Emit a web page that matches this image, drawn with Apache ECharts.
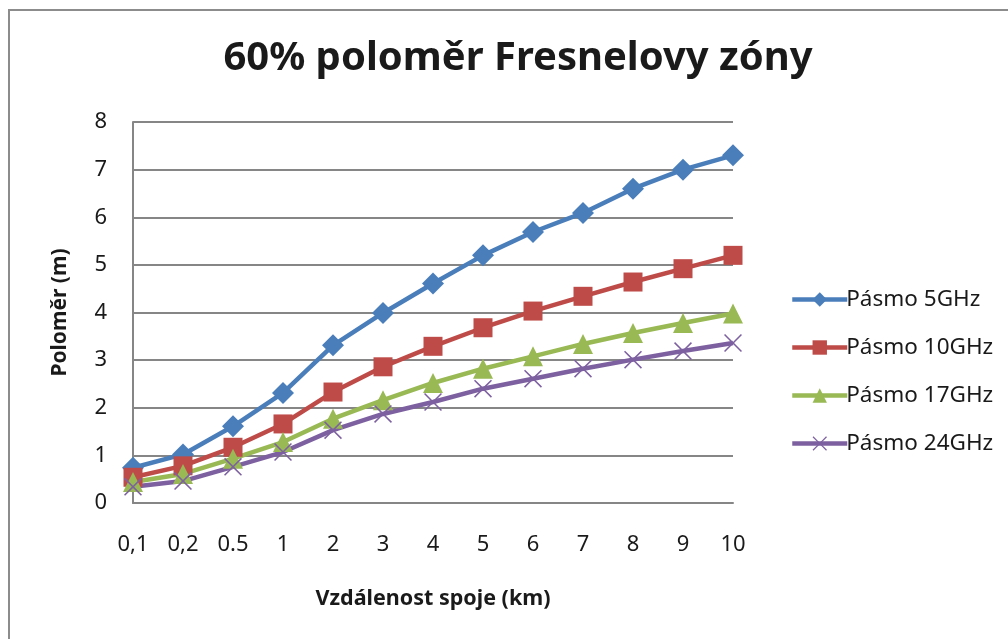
<!DOCTYPE html>
<html>
<head>
<meta charset="utf-8">
<script src="https://cdn.jsdelivr.net/npm/echarts@6/dist/echarts.min.js"></script>
<style>
  html, body { margin: 0; padding: 0; overflow: hidden; background: #fff; }
  #chart { position: absolute; left: 0; top: 0; width: 1008px; height: 639px; }
  #frame { position: absolute; left: 8px; top: 9px; width: 1100px; height: 700px;
           border-left: 2px solid #8c8c8c; border-top: 2px solid #8c8c8c; pointer-events: none; }
</style>
</head>
<body>
<div id="chart"></div>
<div id="frame"></div>
<script>
// vzdálenosti (km)
var categories = ["0,1", "0,2", "0.5", "1", "2", "3", "4", "5", "6", "7", "8", "9", "10"];
var names = ["Pásmo 5GHz", "Pásmo 10GHz", "Pásmo 17GHz", "Pásmo 24GHz"];
var band5 = [0.74, 1.02, 1.61, 2.31, 3.31, 3.99, 4.61, 5.2, 5.69, 6.09, 6.6, 7.0, 7.3];
var band10 = [0.54, 0.78, 1.17, 1.66, 2.33, 2.86, 3.29, 3.68, 4.03, 4.34, 4.64, 4.92, 5.2];
var band17 = [0.44, 0.61, 0.93, 1.28, 1.77, 2.16, 2.52, 2.82, 3.08, 3.34, 3.57, 3.78, 3.98];
var band24 = [0.34, 0.46, 0.76, 1.07, 1.53, 1.87, 2.12, 2.4, 2.61, 2.82, 3.01, 3.19, 3.36];

var font = "'Noto Sans', sans-serif";
var crossPath = "path://M0,0.6L0.6,0L5,4.4L9.4,0L10,0.6L5.6,5L10,9.4L9.4,10L5,5.6L0.6,10L0,9.4L4.4,5Z";

function serie(name, data, color, symbol, size) {
  return {
    name: name,
    type: "line",
    data: data,
    symbol: symbol,
    symbolSize: size,
    showAllSymbol: true,
    lineStyle: { color: color, width: 4.5 },
    itemStyle: { color: color },
    emphasis: { disabled: true },
    animation: false
  };
}

var myChart = echarts.init(document.getElementById("chart"));
var option = {
  backgroundColor: "transparent",
  title: {
    text: "60% poloměr Fresnelovy zóny",
    left: 513,
    textAlign: "center",
    top: 34,
    textStyle: { fontFamily: font, fontWeight: "bold", fontSize: 40, color: "#1a1a1a" }
  },
  legend: {
    orient: "vertical",
    left: 785,
    top: 283,
    itemWidth: 55,
    itemHeight: 18,
    itemGap: 25,
    data: names,
    lineStyle: { width: 4.5 },
    textStyle: { fontFamily: font, fontSize: 22.5, color: "#1a1a1a", padding: [0, 0, 0, -6] }
  },
  grid: { left: 133, right: 275, top: 122, bottom: 136 },
  xAxis: {
    type: "category",
    data: categories,
    boundaryGap: false,
    name: "Vzdálenost spoje (km)",
    nameLocation: "middle",
    nameGap: 85,
    nameTextStyle: { fontFamily: font, fontWeight: "bold", fontSize: 21.5, color: "#1a1a1a" },
    axisLine: { lineStyle: { color: "#868686", width: 2 } },
    axisTick: { show: false },
    axisLabel: { margin: 31, fontFamily: font, fontSize: 22, color: "#1a1a1a" },
    splitLine: { show: false }
  },
  yAxis: {
    type: "value",
    min: 0,
    max: 8,
    interval: 1,
    name: "Poloměr (m)",
    nameLocation: "middle",
    nameGap: 62,
    nameRotate: 90,
    nameTextStyle: { fontFamily: font, fontWeight: "bold", fontSize: 21, color: "#1a1a1a" },
    axisLine: { show: true, lineStyle: { color: "#868686", width: 2 } },
    axisTick: { show: false },
    axisLabel: { margin: 26, fontFamily: font, fontSize: 22, color: "#1a1a1a" },
    splitLine: { lineStyle: { color: "#868686", width: 2 } }
  },
  series: [
    serie(names[0], band5, "#4a7ebb", "diamond", 22),
    serie(names[1], band10, "#be4b48", "rect", 19),
    serie(names[2], band17, "#98b954", "triangle", 20),
    serie(names[3], band24, "#7d60a0", crossPath, 18)
  ]
};
myChart.setOption(option);
</script>
</body>
</html>
